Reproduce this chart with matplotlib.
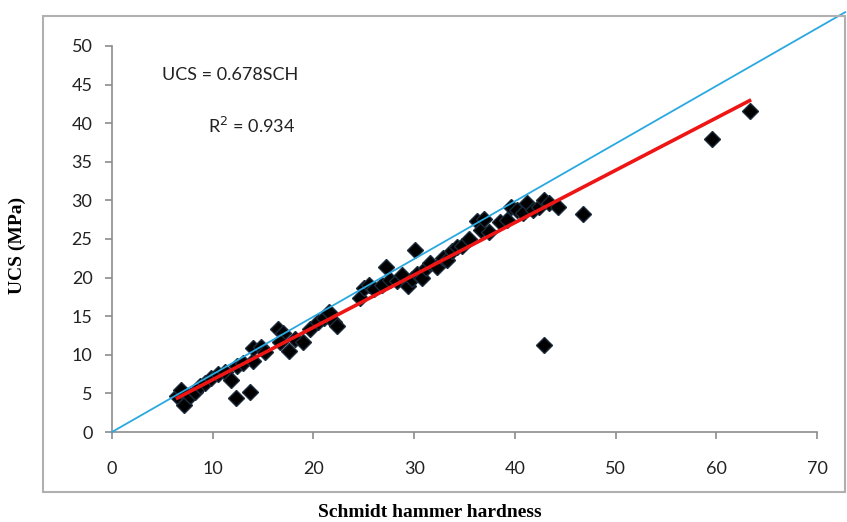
import matplotlib
matplotlib.use("Agg")
import matplotlib.pyplot as plt
from matplotlib.patches import Rectangle

# Schmidt hammer hardness (SCH) vs UCS
sch = [6.5, 6.9, 7.2, 7.7, 8.2, 8.7, 9.2, 9.8, 10.5, 11.2, 11.8, 12.3, 13.7,
       12.4, 13.0, 14.0, 14.0, 14.8, 15.2, 16.5, 17.0, 16.7, 17.6, 18.2, 19.0,
       19.7, 20.5, 21.1, 21.5, 22.0, 22.3, 24.6, 25.0, 25.5, 26.0, 26.8, 27.2,
       27.6, 28.3, 28.8, 29.4, 29.8, 30.1, 30.3, 30.8, 31.2, 31.6, 32.3, 32.9,
       33.3, 33.8, 34.3, 34.8, 35.4, 36.2, 36.6, 36.9, 37.4, 38.5, 39.2, 39.6,
       40.2, 40.8, 41.2, 41.8, 42.4, 42.9, 43.4, 44.3, 46.8, 59.6, 63.3, 42.9]
ucs = [4.6, 5.4, 3.5, 4.6, 5.2, 5.9, 6.4, 7.0, 7.5, 7.8, 6.7, 4.4, 5.2,
       8.5, 8.9, 9.2, 10.9, 11.0, 10.3, 13.3, 12.8, 11.6, 10.5, 12.0, 11.7,
       13.3, 14.2, 14.8, 15.6, 14.3, 13.7, 17.4, 18.6, 19.0, 18.5, 19.0, 21.4,
       19.7, 19.6, 20.3, 18.9, 19.8, 23.6, 20.5, 19.9, 21.2, 21.9, 21.4, 22.6,
       22.3, 23.4, 23.9, 24.1, 25.0, 27.3, 26.2, 27.6, 25.9, 27.2, 27.5, 29.1,
       28.8, 28.4, 29.7, 28.8, 29.2, 30.0, 29.6, 29.2, 28.3, 38.0, 41.6, 11.3]

fit_slope = 0.678
fit_range = [6.5, 63.3]
ref_slope = 0.747
ref_range = [0, 72.8]

x_ticks = list(range(0, 71, 10))
y_ticks = list(range(0, 51, 5))

fig = plt.figure(figsize=(8.47, 5.22), dpi=100)
ax = fig.add_axes([0.1322, 0.1724, 0.8324, 0.7395])

tick_font = "Lato"
grey = "#8c8c8c"

ax.plot(sch, ucs, linestyle="none", marker="D", markersize=8,
        markerfacecolor="black", markeredgecolor="#1c2b3c", zorder=2)
ax.plot(ref_range, [ref_slope * v for v in ref_range], color="#2aa8e0",
        linewidth=1.3, zorder=3, clip_on=False)
ax.plot(fit_range, [fit_slope * v for v in fit_range], color="#ee1515",
        linewidth=2.6, zorder=4)

ax.set_xlim(0, 70)
ax.set_ylim(0, 50)
ax.set_xticks(x_ticks)
ax.set_yticks(y_ticks)
for s in ["top", "right"]:
    ax.spines[s].set_visible(False)
for s in ["left", "bottom"]:
    ax.spines[s].set_color(grey)
    ax.spines[s].set_linewidth(1.2)
ax.tick_params(axis="both", direction="out", length=5, width=1.2, color=grey,
               labelsize=13, labelcolor="#222222")
ax.tick_params(axis="x", pad=16)
ax.tick_params(axis="y", pad=9)
for lab in ax.get_xticklabels() + ax.get_yticklabels():
    lab.set_family(tick_font)

ax.text(5, 46.3, "UCS = 0.678SCH", fontsize=13, family=tick_font,
        ha="left", va="center", color="#222222")
ax.text(9.5, 39.6, "R$^2$ = 0.934", fontsize=13, family=tick_font,
        ha="left", va="center", color="#222222")

fig.text(0.508, 0.019, "Schmidt hammer hardness", fontsize=14,
         family="Liberation Serif", weight="bold", ha="center", va="center")
fig.text(0.021, 0.53, "UCS (MPa)", fontsize=14, family="Liberation Serif",
         weight="bold", rotation=90, ha="center", va="center")

# chart area frame
fig.patches.append(Rectangle((43 / 847, 1 - 492 / 522), (845 - 43) / 847,
                             (492 - 16) / 522, transform=fig.transFigure,
                             fill=False, edgecolor="#b0b0b0", linewidth=1.5))

fig.savefig("out.png", dpi=100)
